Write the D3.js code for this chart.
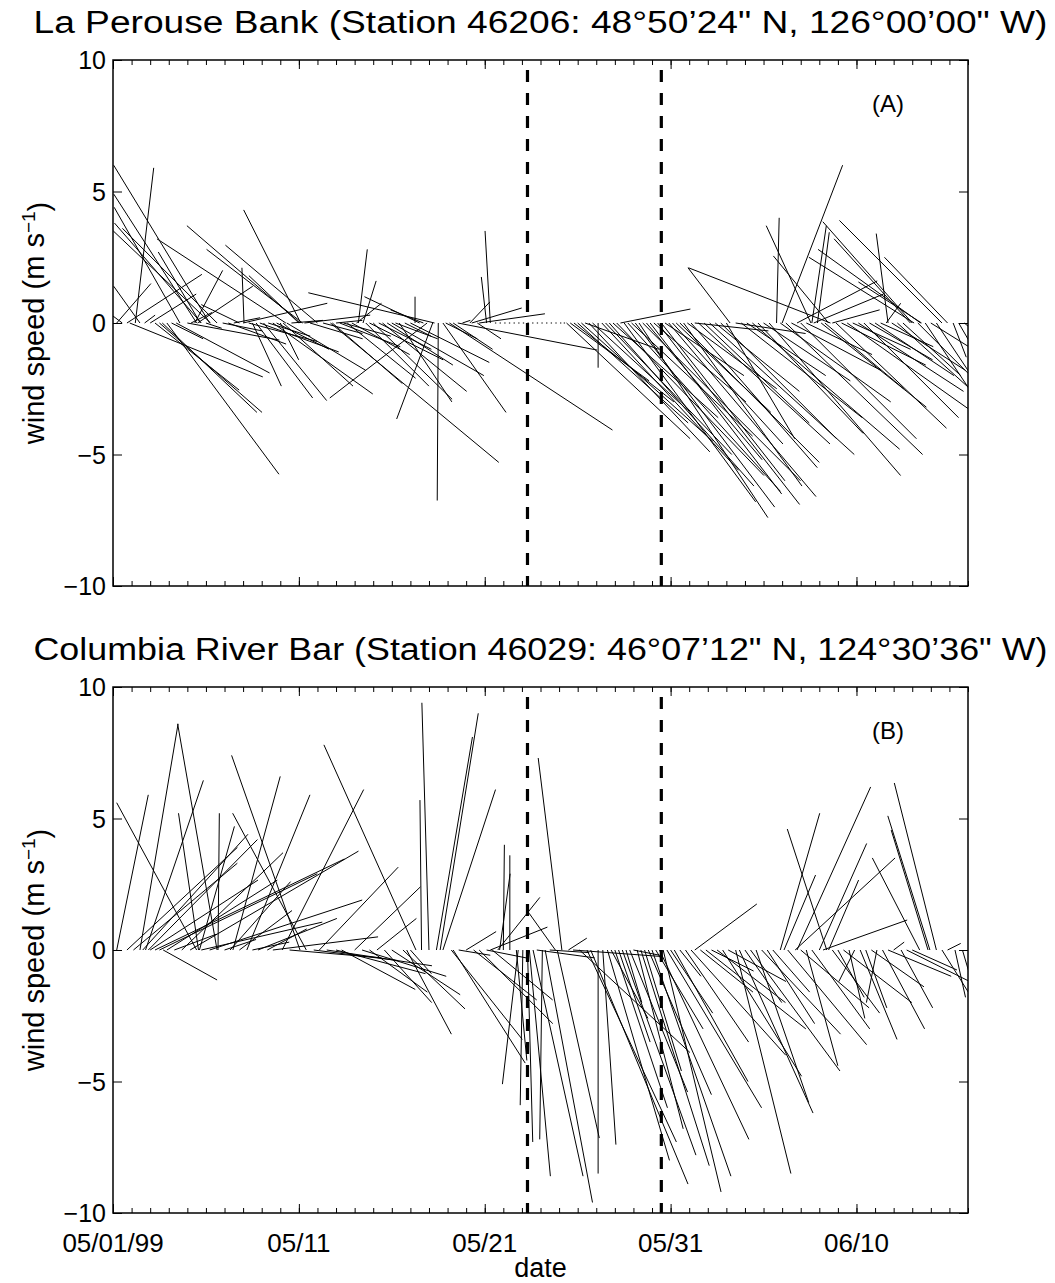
<!DOCTYPE html>
<html>
<head>
<meta charset="utf-8">
<script src="https://d3js.org/d3.v7.min.js"></script>
<style>
body { margin: 0; background: #fff; }
text { font-family: "Liberation Sans", Arial, Helvetica, sans-serif; fill: #000; }
.stick { stroke: #000; stroke-width: 1; fill: none; }
.frame { fill: none; stroke: #000; stroke-width: 1.5; }
.axis path { display: none; }
.axis line { stroke: #000; stroke-width: 1; }
.event { stroke: #000; stroke-width: 3.2; stroke-dasharray: 12,11; }
</style>
</head>
<body>
<script>

// wind sticks: [day since 05/01/99, u (m/s, east), v (m/s, north)]
var sticksA = [
  [0.2,1.3,1.5],[0.5,-0.4,0.3],[0.75,2.85,1.85],[0.9,5.06,-2.05],[1.2,0.7,5.9],[1.45,-1.0,1.4],
  [1.7,0.4,0.3],[2.0,1.75,1.1],[2.26,3.2,-2.55],[2.5,3.9,-3.4],[2.65,3.6,-3.4],[2.9,4.26,-5.75],
  [3.15,1.2,-0.6],[3.4,3.55,-1.9],[3.6,-2.5,4.4],[4.0,3.5,-0.65],[4.2,0.8,0.4],[4.4,1.06,2.0],
  [4.5,-3.15,4.9],[4.55,2.1,1.4],[4.7,-1.6,2.7],[4.75,-3.3,3.8],[5.0,0.6,-0.2],[5.2,-3.65,6.0],
  [5.25,-3.7,3.5],[5.6,-3.6,3.6],[5.9,1.5,-0.3],[6.2,2.2,-0.8],[6.5,1.0,0.2],[6.8,-1.45,0.7],
  [7.0,3.2,0.75],[7.05,-0.08,2.1],[7.3,2.6,-0.7],[7.5,1.1,-2.4],[7.7,2.15,-2.85],[7.9,3.0,-1.1],
  [8.1,2.4,-2.95],[8.35,1.6,-0.5],[8.6,3.8,-2.7],[8.8,2.0,-1.0],[9.0,0.7,-1.4],[9.15,2.66,-2.4],
  [9.3,-4.9,3.2],[9.35,3.0,-1.8],[9.6,1.2,0.1],[10.0,-1.9,1.8],[10.06,-4.3,3.7],[10.1,-2.17,4.3],
  [10.2,-3.65,2.8],[10.3,2.5,0.3],[10.6,2.0,-0.6],[11.0,-3.5,2.96],[11.3,1.5,-0.4],[11.7,6.4,-5.3],
  [11.8,2.66,-2.3],[12.0,1.0,0.1],[12.2,2.3,-0.9],[12.4,1.8,-0.5],[12.6,2.6,-2.1],[12.85,2.2,-1.2],
  [13.1,0.95,0.75],[13.2,0.34,2.8],[13.45,0.5,1.6],[13.6,2.4,-2.4],[13.8,2.8,-1.4],[14.0,3.0,-2.9],
  [14.3,2.0,-1.0],[14.5,3.2,-2.6],[14.75,2.5,-1.6],[15.0,3.5,-2.0],[15.2,1.6,-0.6],[15.4,2.0,-3.0],
  [15.7,1.0,-0.5],[16.0,3.0,-1.5],[16.25,0,1.0],[16.5,-2.1,1.0],[16.7,-1.25,0.5],[16.9,-3.7,-2.85],
  [17.2,-1.37,-3.65],[17.3,-4.8,1.15],[17.5,-0.04,-6.75],[17.75,2.4,-3.4],[17.9,1.2,-0.6],[18.1,6.2,-4.07],
  [18.3,1.5,-1.0],[18.55,5.3,-1.03],[18.8,0.3,0.1],[19.2,0.76,0.8],[19.3,1.9,0.57],[19.6,0.9,-0.6],
  [19.7,2.5,0.35],[20.1,-0.2,1.75],[20.3,-0.2,3.5],
  [20.55,0.05,0],[20.8,0.05,0],[21.05,0.05,0],[21.3,0.05,0],[21.55,0.05,0],[21.8,0.05,0],
  [22.05,0.05,0],[22.3,0.05,0],[22.55,0.05,0],[22.8,0.05,0],[23.05,0.05,0],[23.3,0.05,0],
  [23.55,0.05,0],[23.8,0.05,0],[24.05,0.05,0],[24.25,0.05,0],
  [24.4,4.7,-4.4],[24.6,3.0,-2.2],[24.8,3.8,-3.0],[25.0,4.2,-3.8],[25.2,5.0,-4.5],[25.4,2.8,-1.0],
  [25.6,4.6,-4.9],[25.8,3.6,-3.3],[26.1,0,-1.7],[26.3,5.2,-5.6],[26.5,4.8,-5.0],[26.7,5.5,-6.2],
  [26.9,4.0,-3.6],[27.1,5.6,-5.8],[27.3,2.66,0.53],[27.5,5.0,-6.8],[27.7,5.8,-6.4],[27.9,4.6,-4.3],
  [28.1,5.3,-7.0],[28.3,4.9,-7.4],[28.5,6.0,-6.0],[28.7,4.4,-5.2],[28.9,5.0,-6.5],[29.1,3.5,-3.0],
  [29.3,5.4,-6.9],[29.5,4.7,-6.0],[29.7,3.0,-2.0],[29.9,5.6,-6.6],[30.1,4.2,-4.6],[30.3,3.6,-3.4],
  [30.5,5.3,-5.3],[30.7,4.5,-6.2],[30.9,3.4,-2.5],[31.1,4.8,-5.5],[31.3,2.8,-0.3],[31.5,5.0,-4.6],
  [31.8,4.0,-3.8],[32.1,5.5,-5.0],[32.4,3.2,-2.6],[32.7,4.4,-4.4],[33.0,2.6,-4.4],[33.2,-1.6,2.1],
  [33.5,2.66,-0.4],[33.8,4.6,-3.6],[34.1,3.0,-2.0],[34.4,5.6,-4.8],[34.7,4.0,-4.2],[35.0,3.3,-2.2],
  [35.3,5.0,-5.8],[35.7,0.1,4.0],[35.9,4.2,-3.0],[36.0,2.3,6.0],[36.2,5.2,-5.0],[36.5,3.4,-1.8],
  [36.8,3.05,1.6],[37.0,4.4,-4.4],[37.3,2.5,-1.2],[37.55,-1.7,3.7],[37.6,0.55,3.7],[37.7,2.65,1.1],
  [37.9,0.45,3.45],[38.1,4.0,-3.2],[38.3,3.0,-2.5],[38.5,-2.1,2.55],[38.6,-5.4,2.1],[38.7,1.8,0.5],
  [38.9,4.2,-4.0],[39.2,3.2,-1.6],[39.5,4.8,-3.4],[39.8,2.2,-1.0],[40.1,4.0,-2.6],[40.4,3.6,-3.6],
  [40.7,2.4,-1.4],[41.0,3.0,-2.0],[41.3,2.0,-0.9],[41.6,0.55,0.75],[41.7,-0.45,3.4],[41.9,2.8,-1.8],
  [42.2,3.2,-2.9],[42.5,2.2,-2.0],[42.9,-2.9,3.2],[43.0,-3.4,3.85],[43.1,-4.0,2.5],[43.3,2.6,-2.6],
  [43.45,-3.9,2.8],[43.5,-2.4,1.56],[43.7,2.0,-3.0],[44.0,1.6,-1.0],[44.3,2.4,-3.6],[44.6,-3.9,3.9],
  [44.9,-2.4,2.5],[45.2,0.5,-1.3],[45.5,1.5,-2.6],[45.8,1.2,-1.0]
];

var sticksB = [
  [0.2,1.2,5.9],[0.75,4.2,3.9],[1.1,3.95,3.3],[1.45,1.45,8.6],[1.6,4.0,4.4],[1.75,2.2,6.45],
  [1.9,4.15,4.2],[2.0,4.1,2.66],[2.26,7.2,3.46],[2.5,6.0,2.9],[2.7,2.05,-1.14],[2.9,4.2,2.66],
  [3.3,1.6,0.6],[3.7,3.85,3.7],[4.15,6.4,3.76],[4.5,-3.04,5.6],[4.6,-0.76,5.2],[4.65,1.33,4.7],
  [4.75,4.6,1.06],[5.2,5.8,1.9],[5.6,-1.5,8.6],[5.65,0.05,5.2],[6.0,1.2,0.4],[6.3,2.3,2.6],
  [6.45,1.8,6.6],[6.8,2.0,1.5],[7.2,2.4,5.9],[7.5,1.4,0.3],[7.8,3.0,1.2],[8.3,1.5,0.8],
  [8.6,4.0,0.5],[9.1,3.1,6.1],[9.5,3.5,-0.3],[10.06,-2.6,7.4],[10.4,-2.8,5.2],[10.8,3.2,-0.4],
  [11.1,3.0,3.15],[11.5,4.0,-0.6],[12.0,3.4,-0.9],[12.3,2.8,-1.5],[13.0,2.5,2.4],[13.4,3.2,-1.0],
  [13.8,2.2,-1.6],[14.2,1.5,1.2],[14.6,1.8,-2.0],[15.0,2.6,-1.7],[15.6,2.36,-2.24],[15.8,1.7,-3.2],
  [16.0,0.8,-0.9],[16.3,-3.5,7.8],[16.6,-0.06,5.7],[17.0,-0.27,9.4],[17.4,1.37,8.1],[17.6,1.45,9.0],
  [17.75,2.0,6.1],[18.2,2.7,-3.4],[18.3,2.74,-4.3],[18.6,1.2,-0.2],[19.0,1.14,0.7],[19.4,2.4,-1.9],
  [19.7,2.8,-2.8],[20.1,1.5,-0.3],[20.3,2.17,0.87],[20.4,2.3,-1.9],[20.7,1.6,2.0],[20.8,0.4,2.9],
  [21.0,0.04,4.0],[21.35,0,3.6],[21.7,0.4,-4.2],[21.8,-0.6,-5.1],[22.05,-0.1,-5.9],[22.3,0.2,-7.3],
  [22.4,0.8,-8.6],[22.6,1.9,-8.6],[22.8,2.2,-0.3],[23.1,-0.1,-7.2],[23.25,1.8,-9.6],[23.5,1.5,-0.1],
  [23.8,-1.0,1.4],[23.9,1.6,-7.15],[24.15,-0.9,7.3],[24.5,0.7,0.45],[24.75,3.4,-0.25],[25.1,4.2,-3.9],
  [25.5,3.4,-7.3],[25.7,3.7,-8.9],[26.1,0,-8.5],[26.35,0.5,-7.4],[26.6,2.36,-8.0],[26.8,1.4,-2.6],
  [27.0,2.0,-6.0],[27.2,1.2,-3.5],[27.4,2.8,-7.8],[27.6,0.6,-2.0],[27.8,2.2,-5.4],[28.0,1.0,-0.2],
  [28.2,1.75,-6.8],[28.4,2.6,-8.2],[28.6,1.4,-4.6],[28.8,2.4,-5.5],[29.0,3.0,-8.6],[29.2,1.8,-3.0],
  [29.4,3.4,-7.2],[29.6,2.2,-9.2],[29.8,3.6,-6.0],[30.0,1.6,-2.4],[30.2,2.8,-5.0],[30.5,0.8,-1.0],
  [30.8,2.4,-3.5],[31.1,3.6,-4.0],[31.3,2.36,1.75],[31.6,2.0,-1.6],[31.9,3.8,-3.0],[32.2,1.6,-0.8],
  [32.5,2.6,-2.0],[32.8,3.0,-4.8],[33.1,2.2,-1.2],[33.5,2.1,-8.5],[33.7,2.8,-6.2],[34.0,1.4,-2.0],
  [34.3,3.4,-4.6],[34.6,2.0,-5.8],[34.9,3.0,-3.2],[35.2,1.8,-2.8],[35.5,1.4,-1.6],[35.9,1.5,5.2],
  [36.1,1.2,2.85],[36.3,3.0,-3.6],[36.7,3.8,3.5],[36.8,2.8,6.2],[37.0,2.6,-2.2],[37.3,1.2,-4.4],
  [37.6,2.2,-3.0],[38.0,1.8,4.05],[38.2,3.2,1.14],[38.4,-1.5,4.6],[38.5,1.14,2.66],[38.7,1.8,-2.4],
  [39.0,1.0,-1.8],[39.3,2.6,-2.0],[39.6,0.6,-2.6],[39.9,-0.6,-1.2],[40.2,1.4,-3.4],[40.5,0.8,-2.2],
  [40.8,2.0,-1.4],[41.1,-0.4,-2.0],[41.4,1.6,-3.0],[41.7,2.4,-1.0],[42.0,0.4,0.3],[42.4,1.2,-2.2],
  [42.7,2.8,-1.4],[43.0,1.7,-0.76],[43.4,-1.8,3.5],[43.85,-1.4,4.56],[43.95,-1.6,5.1],[44.3,-1.6,6.35],
  [44.6,1.0,-1.6],[44.9,0.5,0.25],[45.3,0.4,-1.8],[45.7,1.0,-3.4]
];

var dayTicks = [0, 10, 20, 30, 40];
var dayLabels = ["05/01/99", "05/11", "05/21", "05/31", "06/10"];
var yTicks = [-10, -5, 0, 5, 10];
var yLabels = ["\u221210", "\u22125", "0", "5", "10"];
var eventDays = [22.3, 29.5];
var titles = [
  "La Perouse Bank (Station 46206: 48\u00b050\u201924\" N, 126\u00b000\u201900\" W)",
  "Columbia River Bar (Station 46029: 46\u00b007\u201912\" N, 124\u00b030\u201936\" W)"
];
var tags = ["(A)", "(B)"];

var W = 1055, H = 1283;
var left = 113, right = 968;
var panels = [{top: 60, bottom: 586, data: sticksA}, {top: 687, bottom: 1213, data: sticksB}];

var svg = d3.select("body").append("svg")
  .attr("width", W)
  .attr("height", H);

svg.append("rect").attr("width", W).attr("height", H).attr("fill", "#fff");

var x = d3.scaleLinear().domain([0, 46]).range([left, right]);

panels.forEach(function(p, i) {
  var y = d3.scaleLinear().domain([-10, 10]).range([p.bottom, p.top]);
  var k = y(0) - y(1); // pixels per m/s, same on both directions
  var g = svg.append("g");

  var clipId = "clip" + i;
  svg.append("clipPath").attr("id", clipId)
    .append("rect")
    .attr("x", left).attr("y", p.top)
    .attr("width", right - left).attr("height", p.bottom - p.top);

  // sticks
  g.append("g").attr("clip-path", "url(#" + clipId + ")")
    .selectAll("line").data(p.data).enter().append("line")
    .attr("class", "stick")
    .attr("x1", function(d) { return x(d[0]); })
    .attr("y1", y(0))
    .attr("x2", function(d) { return x(d[0]) + d[1] * k; })
    .attr("y2", function(d) { return y(d[2]); });

  // event lines
  g.selectAll(".event").data(eventDays).enter().append("line")
    .attr("class", "event")
    .attr("x1", function(d) { return x(d); })
    .attr("x2", function(d) { return x(d); })
    .attr("y1", p.top + 10)
    .attr("y2", p.bottom);

  // minor day ticks, top and bottom
  var minor = d3.range(0, 47);
  g.append("g").attr("class", "axis")
    .attr("transform", "translate(0," + p.bottom + ")")
    .call(d3.axisBottom(x).tickValues(minor).tickSize(-5).tickFormat(""));
  g.append("g").attr("class", "axis")
    .attr("transform", "translate(0," + p.top + ")")
    .call(d3.axisTop(x).tickValues(minor).tickSize(-5).tickFormat(""));
  g.append("g").attr("class", "axis")
    .attr("transform", "translate(0," + p.bottom + ")")
    .call(d3.axisBottom(x).tickValues(dayTicks).tickSize(-9).tickFormat(""));
  g.append("g").attr("class", "axis")
    .attr("transform", "translate(0," + p.top + ")")
    .call(d3.axisTop(x).tickValues(dayTicks).tickSize(-9).tickFormat(""));

  // y ticks inside on both sides
  g.append("g").attr("class", "axis")
    .attr("transform", "translate(" + left + ",0)")
    .call(d3.axisLeft(y).tickValues(yTicks).tickSize(-9).tickFormat(""));
  g.append("g").attr("class", "axis")
    .attr("transform", "translate(" + right + ",0)")
    .call(d3.axisRight(y).tickValues(yTicks).tickSize(-9).tickFormat(""));

  g.selectAll(".ylab").data(yTicks).enter().append("text")
    .attr("x", left - 7)
    .attr("y", function(d) { return y(d); })
    .attr("dy", "0.36em")
    .attr("text-anchor", "end")
    .style("font-size", "25px")
    .text(function(d, j) { return yLabels[j]; });

  g.append("rect").attr("class", "frame")
    .attr("x", left).attr("y", p.top)
    .attr("width", right - left).attr("height", p.bottom - p.top);

  g.append("text")
    .attr("x", (left + right) / 2)
    .attr("y", p.top - 27)
    .attr("text-anchor", "middle")
    .style("font-size", "31px")
    .attr("textLength", 1014)
    .attr("lengthAdjust", "spacingAndGlyphs")
    .text(titles[i]);

  g.append("text")
    .attr("x", 888)
    .attr("y", p.top + 52)
    .attr("text-anchor", "middle")
    .style("font-size", "24px")
    .text(tags[i]);

  var yl = g.append("text")
    .attr("transform", "translate(44," + y(0) + ") rotate(-90)")
    .attr("text-anchor", "middle")
    .style("font-size", "29px");
  yl.append("tspan").text("wind speed (m s");
  yl.append("tspan").attr("dy", "-0.45em").style("font-size", "19px").text("\u22121");
  yl.append("tspan").attr("dy", "0.45em").text(")");
});

// date labels under the lower panel
svg.selectAll(".xlab").data(dayTicks).enter().append("text")
  .attr("x", function(d) { return x(d); })
  .attr("y", 1252)
  .attr("text-anchor", "middle")
  .style("font-size", "26px")
  .text(function(d, j) { return dayLabels[j]; });

svg.append("text")
  .attr("x", (left + right) / 2)
  .attr("y", 1277)
  .attr("text-anchor", "middle")
  .style("font-size", "27px")
  .text("date");

</script>
</body>
</html>
